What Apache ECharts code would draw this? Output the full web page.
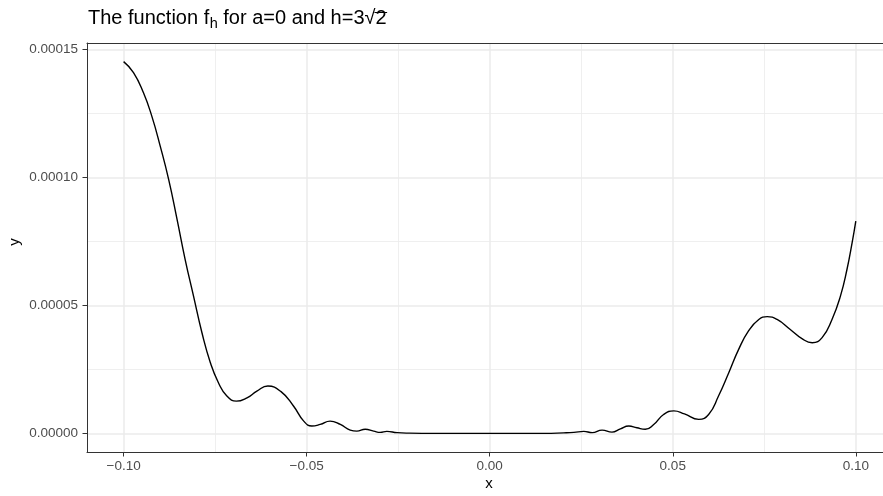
<!DOCTYPE html>
<html>
<head>
<meta charset="utf-8">
<script src="https://cdn.jsdelivr.net/npm/echarts@6/dist/echarts.min.js"></script>
<style>
  html, body { margin: 0; padding: 0; background: #fff; }
  #chart { width: 883px; height: 496px; }
</style>
</head>
<body>
<div id="chart"></div>
<script>
// curve
const xVals = [
  -0.1000, -0.0973, -0.0946, -0.0923, -0.0900, -0.0877, -0.0854, -0.0832, -0.0809, -0.0786,
  -0.0763, -0.0741, -0.0718, -0.0692, -0.0663, -0.0636, -0.0606, -0.0570, -0.0536, -0.0508,
  -0.0486, -0.0463, -0.0436, -0.0408, -0.0381, -0.0363, -0.0340, -0.0317, -0.0299, -0.0281,
  -0.0253, -0.0220, -0.0150, -0.0050, 0.0050, 0.0150, 0.0202, 0.0230, 0.0257, 0.0280,
  0.0307, 0.0334, 0.0357, 0.0380, 0.0402, 0.0425, 0.0448, 0.0475, 0.0503, 0.0532,
  0.0571, 0.0598, 0.0625, 0.0653, 0.0680, 0.0707, 0.0735, 0.0758, 0.0785, 0.0821,
  0.0853, 0.0881, 0.0908, 0.0935, 0.0958, 0.0976, 0.0990, 0.1000
];
const yVals = [
  1.452e-4, 1.409e-4, 1.331e-4, 1.239e-4, 1.122e-4, 0.992e-4, 0.836e-4, 0.680e-4, 0.536e-4, 0.393e-4,
  0.276e-4, 0.198e-4, 0.146e-4, 0.126e-4, 0.139e-4, 0.165e-4, 0.185e-4, 0.163e-4, 0.107e-4, 0.048e-4,
  0.029e-4, 0.035e-4, 0.048e-4, 0.035e-4, 0.013e-4, 0.009e-4, 0.016e-4, 0.009e-4, 0.004e-4, 0.008e-4,
  0.003e-4, 0.001e-4, 0, 0, 0, 0, 0.002e-4, 0.004e-4, 0.008e-4, 0.003e-4,
  0.013e-4, 0.005e-4, 0.018e-4, 0.029e-4, 0.022e-4, 0.016e-4, 0.035e-4, 0.074e-4, 0.088e-4, 0.076e-4,
  0.055e-4, 0.074e-4, 0.146e-4, 0.237e-4, 0.328e-4, 0.400e-4, 0.445e-4, 0.456e-4, 0.445e-4, 0.406e-4,
  0.370e-4, 0.354e-4, 0.374e-4, 0.445e-4, 0.536e-4, 0.641e-4, 0.745e-4, 0.829e-4
];
const xTicks = [-0.10, -0.05, 0, 0.05, 0.10];
const xMinor = [-0.075, -0.025, 0.025, 0.075];
const yTicks = [0, 0.00005, 0.00010, 0.00015];
const yMinor = [0.000025, 0.000075, 0.000125];

const FONT = '"Liberation Sans", Arial, sans-serif';
const GRID_MAJOR = '#EBEBEB';
const X_MIN = -0.11, X_MAX = 0.10743; // panel runs past the right edge of the picture
const Y_MIN = -7.26e-6, Y_MAX = 1.5246e-4;

// text widths for the title pieces
const ctx = document.createElement('canvas').getContext('2d');
const textW = (t, size) => {
  ctx.font = size + 'px ' + FONT;
  return ctx.measureText(t).width;
};

const txt = (text, x, y, size, extra = {}) => ({
  type: 'text',
  x: x,
  y: y,
  rotation: extra.rotation || 0,
  style: {
    text: text,
    fill: extra.fill || '#000',
    fontSize: size,
    fontFamily: FONT,
    align: extra.align || 'left',
    verticalAlign: 'middle',
    textAlign: extra.align || 'left',
    textVerticalAlign: 'middle'
  }
});

const buildTitle = () => {
  const big = 20, small = 14.5;
  const t1 = 'The function f', t2 = 'h', t3 = ' for a=0 and h=3', t4 = '\u221A', t5 = '2';
  let x = 88;
  const midY = 18.8;
  const out = [];
  out.push(txt(t1, x, midY, big));
  x += textW(t1, big) + 0.5;
  out.push(txt(t2, x, midY + 5.5, small));
  x += textW(t2, small);
  out.push(txt(t3, x, midY, big));
  x += textW(t3, big);
  out.push(txt(t4, x, midY, big));
  const rootEnd = x + textW(t4, big);
  x = rootEnd;
  out.push(txt(t5, x, midY, big));
  const end = x + textW(t5, big);
  out.push({
    type: 'line',
    shape: { x1: rootEnd - 1, y1: 12.5, x2: end + 0.5, y2: 12.5 },
    style: { stroke: '#000', lineWidth: 1 }
  });
  return out;
};

const fmtX = (v) => v.toFixed(2).replace('-', '\u2212');
const fmtY = (v) => v.toFixed(5);

const chart = echarts.init(document.getElementById('chart'), null, { renderer: 'canvas' });

const axisText = { color: '#4D4D4D', fontSize: 13.5, fontFamily: FONT };

chart.setOption({
  animation: false,
  backgroundColor: '#fff',
  grid: {
    left: 87, top: 43, right: 0, bottom: 44,
    show: false, containLabel: false, outerBoundsMode: 'none'
  },
  xAxis: [
    {
      type: 'value', min: X_MIN, max: X_MAX,
      axisLine: { show: true, onZero: false, lineStyle: { color: '#333333', width: 1 } },
      axisTick: { show: true, length: 4.5, customValues: xTicks, lineStyle: { color: '#333333', width: 1 } },
      axisLabel: Object.assign({ customValues: xTicks, margin: 7, formatter: fmtX }, axisText),
      splitLine: { show: true, lineStyle: { color: GRID_MAJOR, width: 1.5 } }
    },
    {
      // top border of the panel and the minor vertical grid
      type: 'value', min: X_MIN, max: X_MAX, position: 'top',
      axisLine: { show: true, onZero: false, lineStyle: { color: '#333333', width: 1 } },
      axisTick: { show: false, customValues: xMinor },
      axisLabel: { show: false, customValues: xMinor },
      splitLine: { show: true, lineStyle: { color: GRID_MAJOR, width: 0.8 } }
    }
  ],
  yAxis: [
    {
      type: 'value', min: Y_MIN, max: Y_MAX,
      axisLine: { show: true, onZero: false, lineStyle: { color: '#333333', width: 1 } },
      axisTick: { show: true, length: 4.5, customValues: yTicks, lineStyle: { color: '#333333', width: 1 } },
      axisLabel: Object.assign({ customValues: yTicks, margin: 9, formatter: fmtY }, axisText),
      splitLine: { show: true, lineStyle: { color: GRID_MAJOR, width: 1.5 } }
    },
    {
      type: 'value', min: Y_MIN, max: Y_MAX, position: 'right',
      axisLine: { show: false },
      axisTick: { show: false, customValues: yMinor },
      axisLabel: { show: false, customValues: yMinor },
      splitLine: { show: true, lineStyle: { color: GRID_MAJOR, width: 0.8 } }
    }
  ],
  series: [
    {
      type: 'line',
      xAxisIndex: 0,
      yAxisIndex: 0,
      data: xVals.map((x, i) => [x, yVals[i]]),
      showSymbol: false,
      smooth: 0.5,
      lineStyle: { color: '#000', width: 1.4 },
      z: 5
    }
  ],
  graphic: buildTitle().concat([
    txt('x', 489, 484, 15, { align: 'center' }),
    txt('y', 15, 242, 15, { align: 'center', rotation: Math.PI / 2 })
  ])
});
</script>
</body>
</html>
